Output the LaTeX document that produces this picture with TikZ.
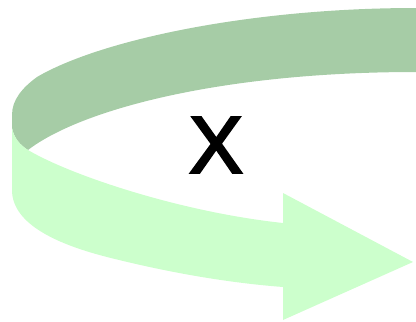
\documentclass[tikz,border=0pt]{standalone}
\usepackage{fontspec}
\newfontfamily\labelfont[FakeBold=3]{Liberation Sans}
\usetikzlibrary{positioning}
\definecolor{bandBack}{HTML}{A6CCA6}
\definecolor{bandFront}{HTML}{CCFFCC}
\begin{document}
\begin{tikzpicture}[
    x=0.025cm, y=-0.025cm,
    backband/.style={fill=bandBack, draw=none},
    frontband/.style={fill=bandFront, draw=none},
    axislabel/.style={inner sep=0pt, font=\labelfont\fontsize{57}{60}\selectfont, text=black}
  ]
    \useasboundingbox (0,0) rectangle (416,322);

    % Back of the band (inner side)
    \fill[backband] (416,8) .. controls (250,8) and (100,40) .. (37,77)
      .. controls (22,88) and (12,100) .. (12,115) -- (12,128)
      .. controls (14,138) and (20,145) .. (28,150)
      .. controls (80,110) and (220,72) .. (416,72) -- cycle;

    % Front of the band with arrow head
    \fill[frontband] (12,128) -- (12,190)
      .. controls (12,225) and (60,245) .. (107,257)
      .. controls (170,273) and (230,283) .. (283,287)
      -- (283,320) -- (413,262) -- (283,193) -- (283,223)
      .. controls (180,212) and (70,175) .. (28,150)
      .. controls (20,145) and (14,138) .. (12,128) -- cycle;

    % Label
    \node[axislabel] (xmark) at (216,145) {X};
  \end{tikzpicture}
\end{document}
